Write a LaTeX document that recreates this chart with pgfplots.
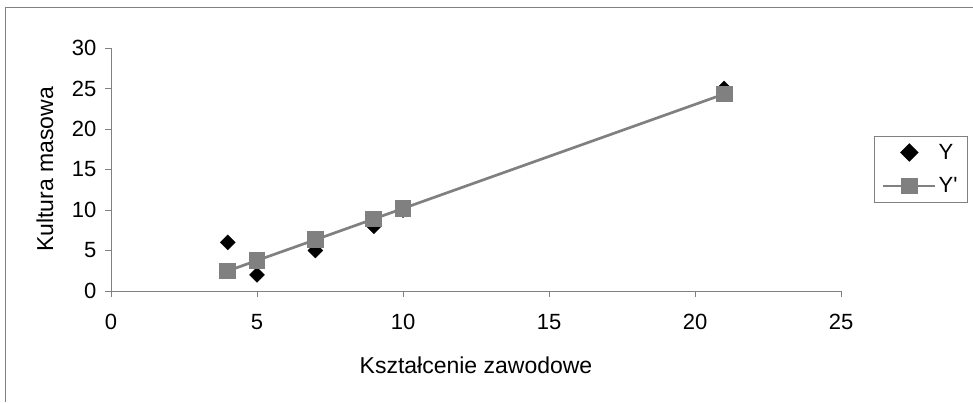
\documentclass[border=0pt]{standalone}
\usepackage{fontspec}
\setmainfont{Liberation Sans}
\usepackage{pgfplots}
\pgfplotsset{compat=1.18}
\definecolor{excelgray}{RGB}{128,128,128}
\newcommand{\chartfont}{\fontsize{22}{26}\selectfont}
\newcommand{\labelfont}{\fontsize{23}{27}\selectfont}
\pgfplotsset{wide legend/.style={legend image code/.code={%
  \draw[mark repeat=2,mark phase=2,##1,line width=2.6pt] plot coordinates {(0pt,0pt) (26pt,0pt) (52pt,0pt)};}}}
\begin{document}
\begin{tikzpicture}
\useasboundingbox (0pt,0pt) rectangle (973pt,-402pt);
\begin{axis}[
  at={(111pt,-291pt)}, anchor=south west,
  scale only axis, width=730pt, height=243pt,
  xmin=0, xmax=25, ymin=0, ymax=30,
  xtick={0,5,...,25}, ytick={0,5,...,30},
  axis x line*=bottom, axis y line*=left,
  axis line style={excelgray, line width=1pt, -},
  xtick pos=bottom, ytick pos=left,
  tick style={excelgray, line width=1pt},
  major tick length=6pt, tick align=outside,
  ticklabel style={font=\chartfont},
  xticklabel style={yshift=-14pt},
  yticklabel style={xshift=-5pt},
  label style={font=\labelfont},
  /pgf/number format/assume math mode=true,
  xlabel={Kształcenie zawodowe},
  ylabel={Kultura masowa},
  xlabel style={at={(axis description cs:0.5,-0.3045)}, anchor=center},
  ylabel style={at={(axis description cs:-0.0904,0.5)}, anchor=center},
  clip=false,
  legend style={at={(axis description cs:1.045,0.638)}, anchor=north west,
    draw=excelgray, font=\chartfont,
    inner xsep=8pt, inner ysep=6pt, row sep=13pt, cells={anchor=west}},
]
% Y: observed values
\addplot[only marks, color=black, mark=square*, mark size=5.3pt,
  mark options={rotate=45, fill=black, draw=none}, wide legend]
  coordinates {(4,6) (5,2) (7,5) (9,8) (10,10) (21,25)};
% Y': fitted values
\addplot[color=excelgray, line width=2.7pt, mark=square*, mark size=7pt,
  mark options={fill=excelgray, draw=none, solid}, wide legend]
  coordinates {(4,2.48) (5,3.77) (7,6.33) (9,8.90) (10,10.19) (21,24.32)};
\legend{Y, Y\textquotesingle}
\end{axis}
\draw[excelgray, line width=1pt] (5pt,-402pt) -- (5pt,-7pt) -- (973pt,-7pt);
\end{tikzpicture}
\end{document}
